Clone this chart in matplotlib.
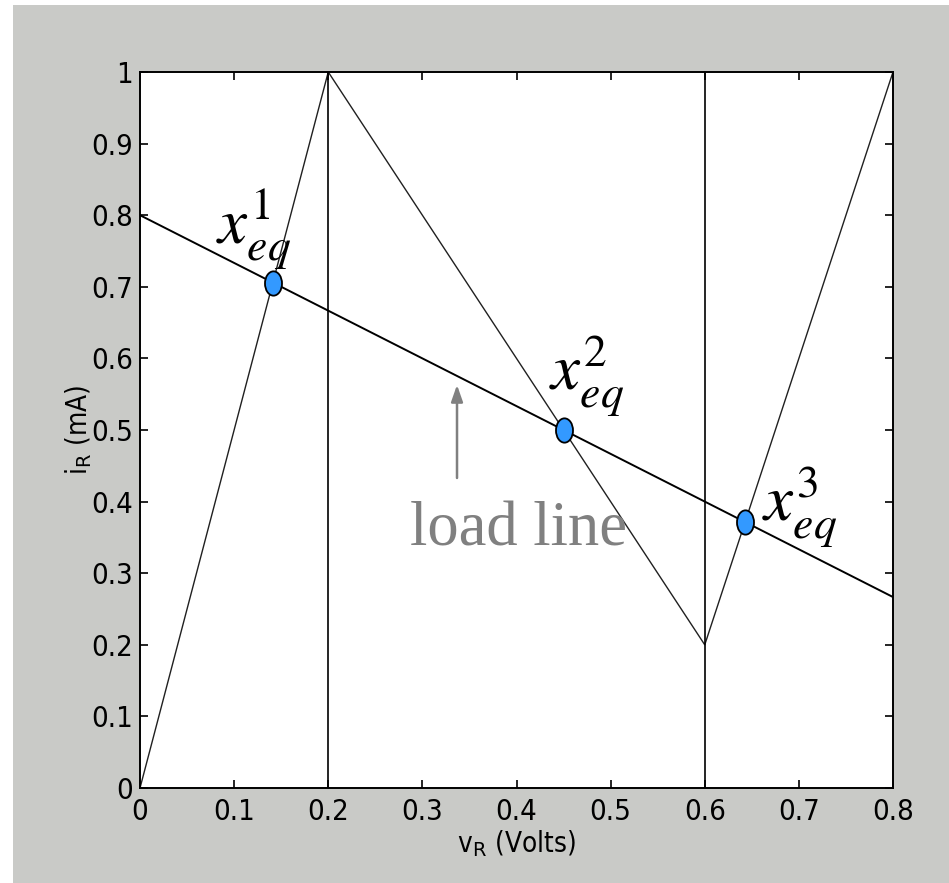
import matplotlib
matplotlib.use("Agg")
import matplotlib.pyplot as plt
from matplotlib.patches import Rectangle
from matplotlib.path import Path
from matplotlib.transforms import Affine2D
import numpy as np

# ---- data ----
char_v = [0.0, 0.2, 0.6, 0.8]
char_i = [0.0, 1.0, 0.2, 1.0]
load_v = [0.0, 0.8]
load_i = [0.8, 0.2667]
vert_v = [0.2, 0.6]
eq_v = [0.141, 0.45, 0.643]
eq_i = [0.706, 0.5, 0.371]
eq_labels = [r"$x_{eq}^{1}$", r"$x_{eq}^{2}$", r"$x_{eq}^{3}$"]
eq_label_v = [0.081, 0.435, 0.661]
eq_label_i = [0.761, 0.556, 0.374]
xticks = [0, 0.1, 0.2, 0.3, 0.4, 0.5, 0.6, 0.7, 0.8]
xticklabels = ["0", "0.1", "0.2", "0.3", "0.4", "0.5", "0.6", "0.7", "0.8"]
yticks = [0, 0.1, 0.2, 0.3, 0.4, 0.5, 0.6, 0.7, 0.8, 0.9, 1]
yticklabels = ["0", "0.1", "0.2", "0.3", "0.4", "0.5", "0.6", "0.7", "0.8", "0.9", "1"]

W, H = 949, 883
gray = "#c9cac7"
fig = plt.figure(figsize=(W / 100, H / 100), dpi=100)
fig.patch.set_facecolor(gray)
fig.add_artist(Rectangle((0, 0), 13 / W, 1, transform=fig.transFigure,
                         facecolor="white", edgecolor="none", zorder=-10))
fig.add_artist(Rectangle((0, 1 - 5 / H), 1, 5 / H, transform=fig.transFigure,
                         facecolor="white", edgecolor="none", zorder=-10))

ax = fig.add_axes([140 / W, (H - 788) / H, 753 / W, 716 / H])
ax.set_facecolor("white")

tickfont = ["DejaVu Sans"]

ax.plot(char_v, char_i, color="#202020", lw=1.0, zorder=2)
for v in vert_v:
    ax.plot([v, v], [0, 1], color="black", lw=1.2, zorder=2)
ax.plot(load_v, load_i, color="black", lw=1.4, zorder=2)

ell = Path.unit_circle().transformed(Affine2D().scale(0.7, 1.0))
ax.plot(eq_v, eq_i, linestyle="none", marker=ell, markersize=17.5,
        markerfacecolor="#3399ff", markeredgecolor="black", markeredgewidth=1.3, zorder=4)

for lab, v, i in zip(eq_labels, eq_label_v, eq_label_i):
    ax.text(v, i, lab, fontsize=47, math_fontfamily="stix", ha="left", va="baseline",
            color="black", zorder=5)

ax.text(0.287, 0.339, "load line", fontsize=45, family=["Liberation Serif", "DejaVu Serif"],
        color="#808080", ha="left", va="baseline", zorder=5)
ax.annotate("", xy=(0.3368, 0.563), xytext=(0.3368, 0.433),
            arrowprops=dict(arrowstyle="-|>,head_width=0.35,head_length=1.0",
                            color="#808080", lw=1.8, shrinkA=0, shrinkB=0))

ax.set_xlim(0, 0.8)
ax.set_ylim(0, 1)
ax.set_xticks(xticks)
ax.set_xticklabels(xticklabels, family=tickfont, fontsize=21, fontstretch="condensed")
ax.set_yticks(yticks)
ax.set_yticklabels(yticklabels, family=tickfont, fontsize=21, fontstretch="condensed")
ax.tick_params(axis="both", direction="in", length=6, width=1.2, top=True, right=True,
               colors="black")
ax.tick_params(axis="x", pad=7)
ax.tick_params(axis="y", pad=5)
for s in ax.spines.values():
    s.set_linewidth(1.4)

ax.set_xlabel(r"v$_{\mathrm{R}}$ (Volts)", family=tickfont, fontsize=20, labelpad=2,
              fontstretch="condensed", math_fontfamily="dejavusans")
ax.set_ylabel(r"i$_{\mathrm{R}}$ (mA)", family=tickfont, fontsize=20, labelpad=-2,
              fontstretch="condensed", math_fontfamily="dejavusans")

fig.savefig("out.png", dpi=100)
